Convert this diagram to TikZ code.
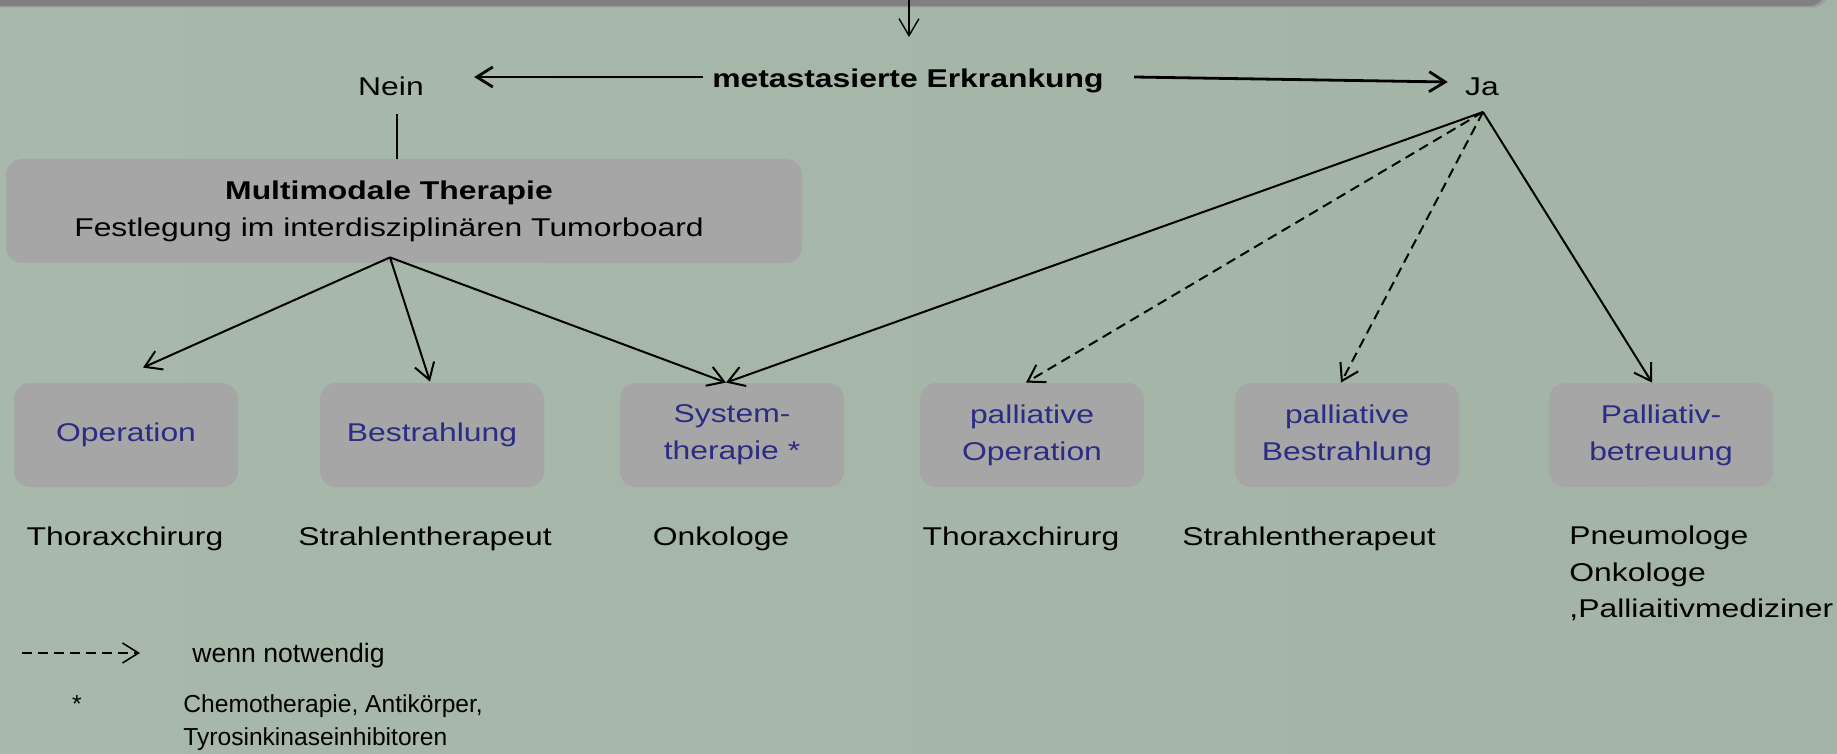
\documentclass[tikz,border=0pt]{standalone}
\usepackage{fontspec}
\setmainfont{Liberation Sans}[FakeStretch=1.24]
\newfontfamily\legfont{Liberation Sans}
\usetikzlibrary{arrows.meta}
\definecolor{bgL}{RGB}{168,185,171}
\definecolor{bgM}{RGB}{182,198,185}
\definecolor{bgR}{RGB}{163,180,166}
\definecolor{boxgray}{RGB}{166,166,166}
\definecolor{boxblue}{RGB}{44,44,132}
\definecolor{barcol}{RGB}{128,128,128}
\definecolor{barshadow}{RGB}{150,156,151}
\tikzset{
  box/.style={rectangle, rounded corners=8pt, fill=boxgray, minimum width=112pt, minimum height=52pt, inner sep=0pt, text=boxblue, align=center, font=\fontsize{12.85}{18.5}\selectfont},
  bigbox/.style={rectangle, rounded corners=8pt, fill=boxgray, minimum width=398pt, minimum height=52pt, inner sep=0pt},
  txt/.style={inner sep=0pt, anchor=base, font=\fontsize{12.85}{18}\selectfont},
  txtb/.style={txt, font=\fontsize{12.85}{18}\selectfont\bfseries},
  txtl/.style={txt, anchor=base west},
  leg/.style={inner sep=0pt, anchor=base west, font=\fontsize{12.3}{16}\legfont},
  arr/.style={-{Straight Barb[length=8pt,width=10pt]}, line width=1pt},
  arrbold/.style={-{Straight Barb[length=8pt,width=10pt]}, line width=1.4pt},
  arrthin/.style={-{Straight Barb[length=8.5pt,width=10pt]}, line width=0.7pt},
  dashline/.style={dash pattern=on 5pt off 3pt},
  thinline/.style={line width=0.7pt}
}
\begin{document}
\begin{tikzpicture}[x=0.5pt,y=-0.5pt]
\useasboundingbox (0,0) rectangle (1837,754);
\shade[left color=bgL, middle color=bgM, right color=bgR] (0,0) rectangle (1837,754);
% top bar (cut off)
\fill[barshadow, rounded corners=8pt] (-40,-60) rectangle (1828,7.5);
\fill[barcol, rounded corners=8pt] (-40,-60) rectangle (1825,6);
% texts top
\node[txtb] (met) at (908,88) {metastasierte Erkrankung};
\node[txt] (nein) at (391,96) {Nein};
\node[txt] (ja) at (1482,96) {Ja};
% multimodal box
\node[bigbox] (mm) at (404,211) {};
\node[txtb] (mmt1) at (389,200) {Multimodale Therapie};
\node[txt] (mmt2) at (389,237) {Festlegung im interdisziplinären Tumorboard};
% boxes
\node[box] (op) at (126,435) {Operation};
\node[box] (be) at (432,435) {Bestrahlung};
\node[box] (sy) at (732,435) {System-\\therapie *};
\node[box] (po) at (1032,435) {palliative\\Operation};
\node[box] (pb) at (1347,435) {palliative\\Bestrahlung};
\node[box] (pv) at (1661,435) {Palliativ-\\betreuung};
% texts below
\node[txt] (lt1) at (125,545) {Thoraxchirurg};
\node[txt] (lt2) at (425,545) {Strahlentherapeut};
\node[txt] (lt3) at (721,545) {Onkologe};
\node[txt] (lt4) at (1021,545) {Thoraxchirurg};
\node[txt] (lt5) at (1309,545) {Strahlentherapeut};
\node[txtl] (lt6a) at (1569,544) {Pneumologe};
\node[txtl] (lt6b) at (1569,581) {Onkologe};
\node[txtl] (lt6c) at (1569,617) {,Palliaitivmediziner};
% legend
\coordinate (legA) at (22,653);
\coordinate (legB) at (140,653);
\draw[arr, dashline, line width=0.8pt] (legA) -- (legB);
\node[leg, font=\fontsize{13.3}{16}\legfont] (wn) at (192,662) {wenn notwendig};
\node[leg, anchor=base] (ast) at (77,712) {*};
\node[leg] (c1) at (183,712) {Chemotherapie, Antikörper,};
\node[leg] (c2) at (183,745) {Tyrosinkinaseinhibitoren};
% connectors
\coordinate (topA) at (909,0);
\coordinate (topB) at (909,37);
\draw[arrthin] (topA) -- (topB);
\draw[arrbold] ([shift={(-9,-11)}]met.base west) -- ([shift={(50,-19)}]nein.base east);
\draw[arrbold] ([shift={(30,-11)}]met.base east) -- ([shift={(-17,-14)}]ja.base west);
\draw[thinline] ([shift={(6,18)}]nein.base) -- ([shift={(-7,0)}]mm.north);
\coordinate (mmout) at ([shift={(-14,-6)}]mm.south);
\coordinate (jaout) at ([shift={(1,16)}]ja.base);
\draw[arr] (mmout) -- ([shift={(17,-15)}]op.north);
\draw[arr] (mmout) -- ([shift={(-2,-1)}]be.north);
\draw[arr] (mmout) -- ([shift={(-6,0)}]sy.north);
\draw[arr] (jaout) -- ([shift={(-6,0)}]sy.north);
\draw[arr, dashline] (jaout) -- ([shift={(-6,0)}]po.north);
\draw[arr, dashline] (jaout) -- ([shift={(-6,0)}]pb.north);
\draw[arr] (jaout) -- ([shift={(-9,0)}]pv.north);
\end{tikzpicture}
\end{document}
